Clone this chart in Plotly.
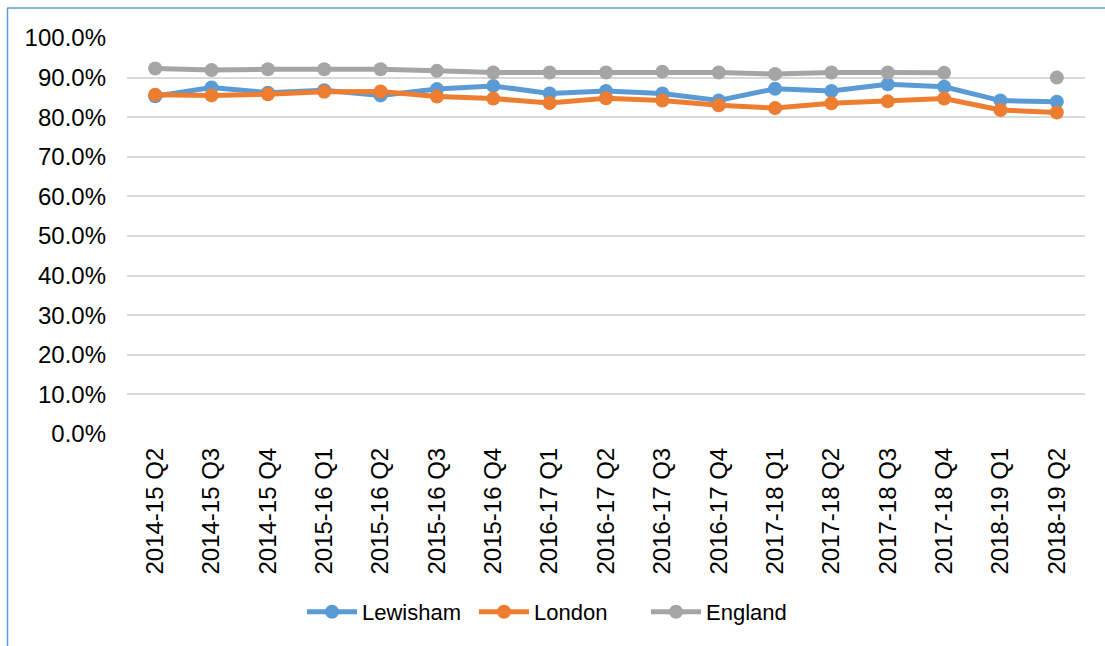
import plotly.graph_objects as go

categories = ["2014-15 Q2", "2014-15 Q3", "2014-15 Q4", "2015-16 Q1", "2015-16 Q2",
              "2015-16 Q3", "2015-16 Q4", "2016-17 Q1", "2016-17 Q2", "2016-17 Q3",
              "2016-17 Q4", "2017-18 Q1", "2017-18 Q2", "2017-18 Q3", "2017-18 Q4",
              "2018-19 Q1", "2018-19 Q2"]
lewisham = [0.853, 0.875, 0.862, 0.868, 0.855, 0.871, 0.879, 0.860, 0.866, 0.860,
            0.842, 0.872, 0.866, 0.883, 0.877, 0.842, 0.839]
london = [0.857, 0.855, 0.858, 0.864, 0.865, 0.852, 0.847, 0.836, 0.848, 0.842,
          0.830, 0.823, 0.835, 0.840, 0.847, 0.818, 0.812]
england = [0.923, 0.919, 0.921, 0.921, 0.921, 0.917, 0.913, 0.913, 0.913, 0.915,
           0.913, 0.909, 0.913, 0.913, 0.912, None, 0.900]

series = [("Lewisham", lewisham, "#5B9BD5"),
          ("London", london, "#ED7D31"),
          ("England", england, "#A5A5A5")]

W, H = 1105, 646
ML, MR, MT, MB = 127, 20, 38, 212
pw, ph = W - ML - MR, H - MT - MB

def px_x(x):
    return (x - ML) / pw

def px_y(y):
    return (H - MB - y) / ph

fig = go.Figure()
for name, vals, col in series:
    fig.add_trace(go.Scatter(
        x=categories, y=vals, name=name, mode="lines+markers",
        line=dict(color=col, width=5),
        marker=dict(color=col, size=14),
        connectgaps=False,
    ))

font_family = "Arial, Liberation Sans, sans-serif"
fig.update_layout(
    width=W, height=H,
    margin=dict(l=ML, r=MR, t=MT, b=MB),
    paper_bgcolor="white", plot_bgcolor="white",
    font=dict(family=font_family, size=22, color="#000000"),
    showlegend=True,
    legend=dict(orientation="h", x=px_x(302), y=px_y(612),
                xanchor="left", yanchor="middle", itemwidth=50,
                entrywidth=107, entrywidthmode="pixels",
                font=dict(size=22), bgcolor="rgba(0,0,0,0)"),
    xaxis=dict(type="category", range=[-0.5, len(categories) - 0.5],
               tickangle=-90, showgrid=False, showline=False,
               ticks="", ticklabelstandoff=8, tickfont=dict(size=24)),
    yaxis=dict(range=[0, 1], dtick=0.1, tickformat=".1%", showgrid=True,
               gridcolor="#D9D9D9", gridwidth=1.5, zeroline=False, showline=False,
               ticks="", ticklabelstandoff=20, tickfont=dict(size=24)),
    shapes=[
        dict(type="line", xref="paper", yref="paper",
             x0=px_x(7.5), x1=px_x(7.5), y0=px_y(8), y1=px_y(H + 2),
             line=dict(color="#5B9BD5", width=1.5)),
        dict(type="line", xref="paper", yref="paper",
             x0=px_x(7), x1=px_x(W + 2), y0=px_y(8), y1=px_y(8),
             line=dict(color="#5B9BD5", width=1.5)),
    ],
)

fig.write_html("out.html")
